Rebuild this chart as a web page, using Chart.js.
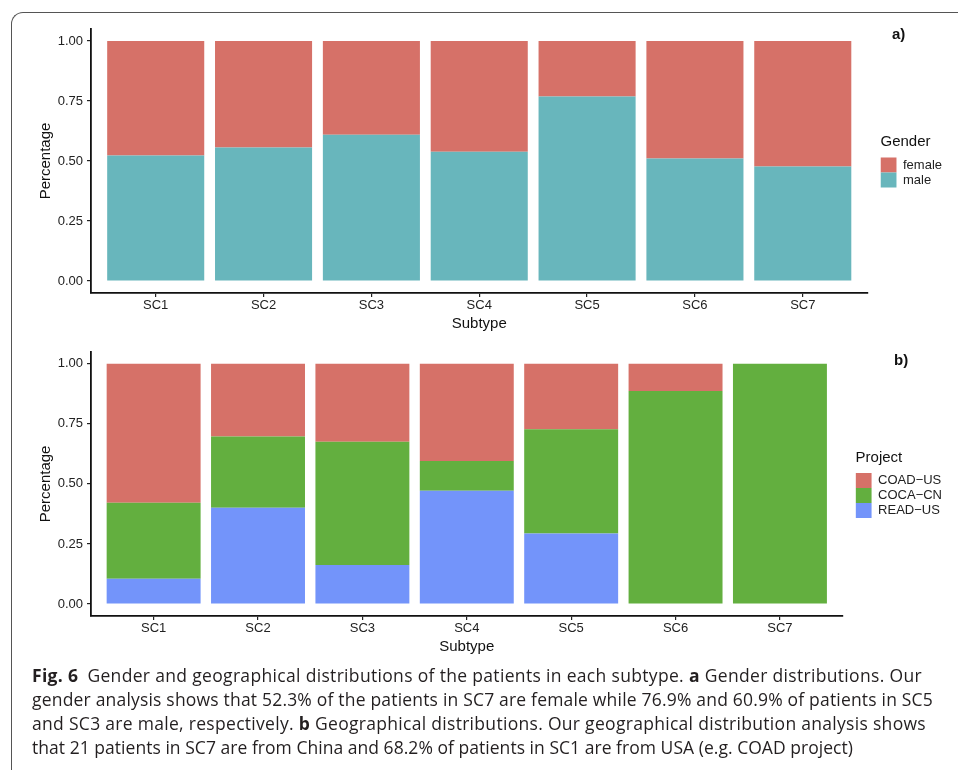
<!DOCTYPE html>
<html>
<head>
<meta charset="utf-8">
<script src="https://cdn.jsdelivr.net/npm/chart.js@4.4.1/dist/chart.umd.min.js"></script>
<style>
  html, body { margin: 0; padding: 0; background: #fff; width: 958px; height: 770px; overflow: hidden; }
  .frame { position: absolute; left: 11px; top: 12px; width: 1000px; height: 800px;
           border-top: 1px solid #555; border-left: 1px solid #555; border-top-left-radius: 12px; }
  .panel { position: absolute; left: 0; width: 958px; }
  #wrapA { top: 0; height: 340px; }
  #wrapB { top: 340px; height: 325px; }
  .tag { position: absolute; font-family: "Liberation Sans", Arial, sans-serif; font-weight: bold; font-size: 15px; color: #111; }
  .caption { position: absolute; left: 32px; top: 663px; font-family: "Open Sans", sans-serif;
             font-size: 17.5px; line-height: 24px; color: #231f20; }
  .caption span { white-space: nowrap; display: inline-block; }
</style>
</head>
<body>
<div class="frame"></div>
<div class="panel" id="wrapA"><canvas id="chartA"></canvas></div>
<div class="panel" id="wrapB"><canvas id="chartB"></canvas></div>
<div class="tag" style="left:892px; top:25px;">a)</div>
<div class="tag" style="left:894px; top:351px;">b)</div>
<div class="caption">
  <span data-w="890"><b>Fig. 6</b>&ensp;Gender and geographical distributions of the patients in each subtype. <b>a</b> Gender distributions. Our</span><br>
  <span data-w="901">gender analysis shows that 52.3% of the patients in SC7 are female while 76.9% and 60.9% of patients in SC5</span><br>
  <span data-w="894">and SC3 are male, respectively. <b>b</b> Geographical distributions. Our geographical distribution analysis shows</span><br>
  <span data-w="821">that 21 patients in SC7 are from China and 68.2% of patients in SC1 are from USA (e.g. COAD project)</span>
</div>
<script>
// categories
const subtypes = ["SC1", "SC2", "SC3", "SC4", "SC5", "SC6", "SC7"];
const yTicks = [0, 0.25, 0.5, 0.75, 1];

// panel a - gender share per subtype
const male   = [0.523, 0.556, 0.609, 0.539, 0.769, 0.510, 0.477];
const female = [0.477, 0.444, 0.391, 0.461, 0.231, 0.490, 0.523];

// panel b - project share per subtype
const readUS = [0.105, 0.401, 0.162, 0.472, 0.293, 0, 0];
const cocaCN = [0.317, 0.296, 0.514, 0.123, 0.435, 0.887, 1.0];
const coadUS = [0.578, 0.303, 0.324, 0.405, 0.272, 0.113, 0];

const FONT = "'Liberation Sans', Arial, sans-serif";
const RED = "#d67168", TEAL = "#68b6bc", GREEN = "#63af3f", BLUE = "#7394fa";

function toPoints(arr) {
  return arr.map((v, i) => ({ x: i, y: v }));
}

function makeChart(id, datasets, legendTitle, pad) {
  const ctx = document.getElementById(id).getContext("2d");
  return new Chart(ctx, {
    type: "bar",
    data: { datasets: datasets },
    options: {
      responsive: true,
      maintainAspectRatio: false,
      animation: false,
      layout: { padding: pad },
      datasets: { bar: { barPercentage: 1, categoryPercentage: 0.9, borderWidth: 0 } },
      plugins: {
        tooltip: { enabled: false },
        legend: {
          position: "right",
          align: "center",
          fullSize: false,
          reverse: true,
          labels: {
            boxWidth: 16,
            boxHeight: 15,
            padding: 0,
            color: "#222",
            font: { family: FONT, size: 13, lineHeight: 1.15 },
          },
          title: {
            display: true,
            text: legendTitle,
            position: "start",
            color: "#111",
            font: { family: FONT, size: 15 },
            padding: { top: 0, bottom: 5 },
          },
        },
      },
      scales: {
        x: {
          type: "linear",
          min: -0.6,
          max: 6.6,
          stacked: true,
          offset: false,
          grid: { display: true, drawOnChartArea: false, drawTicks: true, tickLength: 4, color: "#222", lineWidth: 1.2, offset: false },
          border: { display: true, color: "#111", width: 1.8 },
          ticks: {
            color: "#222",
            font: { family: FONT, size: 13 },
            padding: 1,
            autoSkip: false,
            maxRotation: 0,
            callback: (v) => subtypes[v] ?? "",
          },
          afterBuildTicks: (s) => { s.ticks = subtypes.map((c, i) => ({ value: i })); },
          title: { display: true, text: "Subtype", color: "#111", font: { family: FONT, size: 15 }, padding: { top: 0, bottom: 0 } },
          afterFit: (s) => { s.height = 40; },
        },
        y: {
          type: "linear",
          min: -0.05,
          max: 1.05,
          stacked: true,
          grid: { display: true, drawOnChartArea: false, drawTicks: true, tickLength: 4, color: "#222", lineWidth: 1.2 },
          border: { display: true, color: "#111", width: 1.8 },
          ticks: {
            color: "#222",
            font: { family: FONT, size: 13 },
            padding: 4,
            callback: (v) => v.toFixed(2),
          },
          afterBuildTicks: (s) => { s.ticks = yTicks.map((v) => ({ value: v })); },
          title: { display: true, text: "Percentage", color: "#111", font: { family: FONT, size: 15 }, padding: { top: 17, bottom: 0 } },
          afterFit: (s) => { s.width = 71; },
        },
        // empty axis, only keeps the gap between panel and legend
        gap: {
          type: "linear",
          position: "right",
          display: true,
          grid: { display: false, drawTicks: false },
          border: { display: false },
          ticks: { display: false },
          afterFit: (s) => { s.width = 13; },
        },
      },
    },
  });
}

makeChart("chartA", [
  { label: "male", data: toPoints(male), backgroundColor: TEAL },
  { label: "female", data: toPoints(female), backgroundColor: RED },
], "Gender", { left: 20, right: 6, top: 29, bottom: 7 });

makeChart("chartB", [
  { label: "READ\u2212US", data: toPoints(readUS), backgroundColor: BLUE },
  { label: "COCA\u2212CN", data: toPoints(cocaCN), backgroundColor: GREEN },
  { label: "COAD\u2212US", data: toPoints(coadUS), backgroundColor: RED },
], "Project", { left: 20, right: 6, top: 10, bottom: 9 });

// stretch caption lines to the measured widths of the original
document.querySelectorAll(".caption span").forEach((el) => {
  const target = +el.dataset.w;
  const w = el.getBoundingClientRect().width;
  const n = el.textContent.length;
  el.style.letterSpacing = ((target - w) / n).toFixed(3) + "px";
});
</script>
</body>
</html>
